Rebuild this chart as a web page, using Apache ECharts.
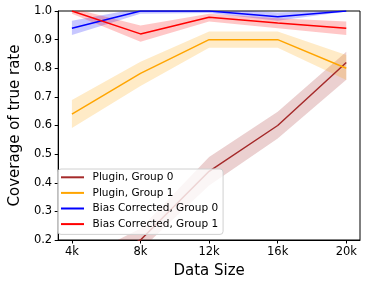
<!DOCTYPE html>
<html>
<head>
<meta charset="utf-8">
<script src="https://cdn.jsdelivr.net/npm/echarts@6/dist/echarts.min.js"></script>
<style>
html,body{margin:0;padding:0;background:#fff;}
#chart{width:366px;height:284px;}
</style>
</head>
<body>
<div id="chart"></div>
<script>
// Data size in thousands
var sizes = [4, 8, 12, 16, 20];
var tickValues = [4, 8, 12, 16, 20];

var plugin0 = [0.08, 0.20, 0.44, 0.60, 0.82];
var plugin0Low = [0.04, 0.165, 0.39, 0.555, 0.76];
var plugin0High = [0.12, 0.24, 0.49, 0.648, 0.858];

var plugin1 = [0.64, 0.782, 0.90, 0.90, 0.80];
var plugin1Low = [0.591, 0.738, 0.872, 0.872, 0.759];
var plugin1High = [0.689, 0.823, 0.928, 0.928, 0.846];

var bias0 = [0.94, 1.0, 1.0, 0.98, 1.0];
var bias0Low = [0.916, 0.99, 0.993, 0.966, 0.998];
var bias0High = [0.966, 1.01, 1.007, 0.995, 1.002];

var bias1 = [1.0, 0.92, 0.978, 0.958, 0.94];
var bias1Low = [0.99, 0.893, 0.963, 0.94, 0.916];
var bias1High = [1.01, 0.949, 0.99, 0.975, 0.963];

var groups = [
  {name: 'Plugin, Group 0', color: '#a52a2a', mid: plugin0, lo: plugin0Low, hi: plugin0High},
  {name: 'Plugin, Group 1', color: '#ffa500', mid: plugin1, lo: plugin1Low, hi: plugin1High},
  {name: 'Bias Corrected, Group 0', color: '#0000ff', mid: bias0, lo: bias0Low, hi: bias0High},
  {name: 'Bias Corrected, Group 1', color: '#ff0000', mid: bias1, lo: bias1Low, hi: bias1High}
];

function pairs(arr) {
  return sizes.map(function (s, i) { return [s, arr[i]]; });
}

var series = [];
groups.forEach(function (g, k) {
  series.push({
    name: 'band' + k, type: 'custom', silent: true, clip: true,
    data: sizes.map(function (s, i) { return [s, g.lo[i], g.hi[i]]; }),
    encode: {x: 0, y: [1, 2]},
    renderItem: function (params, api) {
      if (params.dataIndex !== 0) return null;
      var pts = [];
      for (var i = 0; i < sizes.length; i++) pts.push(api.coord([sizes[i], g.hi[i]]));
      for (var j = sizes.length - 1; j >= 0; j--) pts.push(api.coord([sizes[j], g.lo[j]]));
      var cs = params.coordSys;
      return {
        type: 'polygon',
        shape: {points: pts},
        style: {fill: g.color, opacity: 0.22},
        clipPath: {type: 'rect', shape: {x: cs.x, y: cs.y, width: cs.width, height: cs.height}}
      };
    }
  });
  series.push({
    name: g.name, type: 'line', data: pairs(g.mid), symbol: 'none',
    lineStyle: {color: g.color, width: 1.5}, itemStyle: {color: g.color}, clip: true
  });
});

var font = 'DejaVu Sans';
var chart = echarts.init(document.getElementById('chart'), null, {renderer: 'canvas'});
chart.setOption({
  animation: false,
  backgroundColor: '#fff',
  grid: {left: 52, right: 6, top: 11, bottom: 44, show: true, borderColor: '#000', borderWidth: 1, backgroundColor: 'transparent'},
  legend: {
    data: groups.map(function (g) { return g.name; }),
    orient: 'vertical', left: 58, top: 169,
    padding: [2, 5, 4, 3],
    itemWidth: 23, itemHeight: 2, itemGap: 3,
    icon: 'rect',
    backgroundColor: 'rgba(255,255,255,0.8)',
    borderColor: '#d0d0d0', borderWidth: 1, borderRadius: 3,
    textStyle: {fontFamily: font, fontSize: 10.5, color: '#000', lineHeight: 12.6, padding: [0, 0, 0, 3.6]}
  },
  xAxis: {
    type: 'value', min: 3.2, max: 20.8,
    name: 'Data Size', nameLocation: 'middle', nameGap: 24,
    nameTextStyle: {fontFamily: font, fontSize: 15, color: '#000', verticalAlign: 'top'},
    axisLine: {show: true, lineStyle: {color: '#000', width: 1}},
    axisTick: {show: true, length: 3.5, customValues: tickValues, lineStyle: {color: '#000'}},
    axisLabel: {customValues: tickValues, margin: 6, fontFamily: font, fontSize: 11.5, color: '#000',
      formatter: function (v) { return v + 'k'; }},
    splitLine: {show: false}
  },
  yAxis: {
    type: 'value', min: 0.2, max: 1.0, interval: 0.1,
    name: 'Coverage of true rate', nameLocation: 'middle', nameGap: 35,
    nameTextStyle: {fontFamily: font, fontSize: 15, color: '#000'},
    axisLine: {show: true, lineStyle: {color: '#000', width: 1}},
    axisTick: {show: true, length: 3.5, lineStyle: {color: '#000'}},
    axisLabel: {margin: 6, fontFamily: font, fontSize: 11.5, color: '#000',
      formatter: function (v) { return v.toFixed(1); }},
    splitLine: {show: false}
  },
  series: series
});
</script>
</body>
</html>
